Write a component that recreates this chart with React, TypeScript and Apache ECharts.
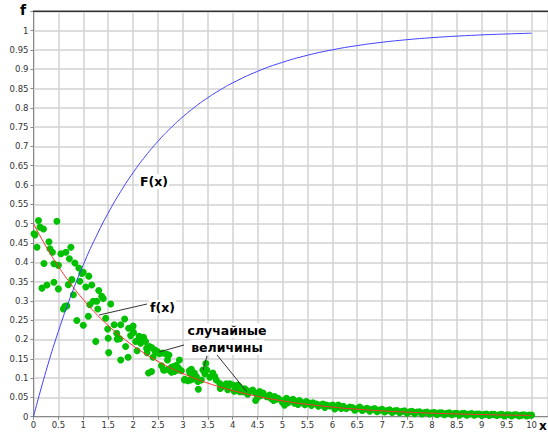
import React, { useEffect, useRef } from "react";
import * as echarts from "echarts";

// x positions for the two curves
const curveX = [0, 0.25, 0.5, 0.75, 1, 1.25, 1.5, 1.75, 2, 2.25, 2.5, 2.75, 3, 3.25, 3.5, 3.75, 4, 4.5, 5, 5.5, 6, 6.5, 7, 7.5, 8, 8.5, 9, 9.5, 10];
// F(x) – blue curve
const cdfY = [0, 0.1175, 0.2212, 0.3127, 0.3935, 0.4647, 0.5276, 0.5831, 0.6321, 0.6753, 0.7135, 0.7471, 0.7769, 0.8031, 0.8262, 0.8466, 0.8647, 0.8946, 0.9179, 0.9361, 0.9502, 0.9612, 0.9698, 0.9765, 0.9817, 0.9857, 0.9889, 0.9913, 0.9933];
// f(x) – red curve
const pdfY = [0.5, 0.4412, 0.3894, 0.3436, 0.3033, 0.2676, 0.2362, 0.2084, 0.1839, 0.1623, 0.1433, 0.1264, 0.1116, 0.0985, 0.0869, 0.0767, 0.0677, 0.0527, 0.041, 0.032, 0.0249, 0.0194, 0.0151, 0.0118, 0.0092, 0.0071, 0.0056, 0.0043, 0.0034];

// random values (green points)
const randomValues: [number, number][] = [
  [0.01, 0.474], [0.03, 0.471], [0.1, 0.508], [0.13, 0.491], [0.2, 0.486], [0.07, 0.439], [0.31, 0.453], [0.33, 0.435],
  [0.38, 0.426], [0.47, 0.506], [0.21, 0.397], [0.41, 0.396], [0.5, 0.392], [0.17, 0.333], [0.27, 0.341], [0.41, 0.348],
  [0.5, 0.331], [0.55, 0.422], [0.65, 0.426], [0.75, 0.439], [0.72, 0.409], [0.83, 0.398], [0.91, 0.385], [0.77, 0.355],
  [0.7, 0.342], [0.6, 0.279], [0.63, 0.286], [0.67, 0.287], [0.8, 0.316], [0.87, 0.249], [1.0, 0.237], [0.97, 0.371],
  [1.0, 0.374], [0.93, 0.351], [1.11, 0.364], [1.05, 0.336], [1.17, 0.341], [1.13, 0.29], [1.2, 0.299], [1.27, 0.299],
  [1.29, 0.279], [1.1, 0.26], [1.31, 0.327], [1.37, 0.312], [1.4, 0.306], [1.25, 0.195], [1.45, 0.255], [1.55, 0.292],
  [1.49, 0.227], [1.5, 0.203], [1.51, 0.166], [1.62, 0.238], [1.67, 0.216], [1.68, 0.201], [1.73, 0.202], [1.75, 0.238],
  [1.83, 0.253], [1.75, 0.147], [1.85, 0.182], [1.9, 0.154], [1.91, 0.229], [1.95, 0.21], [1.98, 0.229], [2.0, 0.235],
  [2.01, 0.218], [2.05, 0.195], [2.08, 0.171], [2.12, 0.208], [2.15, 0.19], [2.18, 0.201], [2.21, 0.206], [2.25, 0.195],
  [2.27, 0.177], [2.28, 0.166], [2.31, 0.113], [2.37, 0.117], [2.33, 0.182], [2.4, 0.154], [2.45, 0.166], [2.49, 0.169],
  [2.53, 0.163], [2.6, 0.165], [2.67, 0.162], [2.72, 0.16], [2.57, 0.132], [2.61, 0.121], [2.69, 0.147], [2.73, 0.121],
  [2.77, 0.115], [2.81, 0.13], [2.87, 0.133], [2.91, 0.126], [2.97, 0.119], [2.93, 0.147], [2.83, 0.117], [2.37, 0.179],
  [2.43, 0.173], [2.63, 0.121], [2.7, 0.123], [2.77, 0.128], [2.8, 0.12], [2.9, 0.121],
  [3.03, 0.095], [3.1, 0.093], [3.15, 0.095], [3.2, 0.098], [3.23, 0.113], [3.13, 0.119], [3.31, 0.071], [3.27, 0.104],
  [3.04, 0.097], [3.14, 0.113], [3.24, 0.102], [3.17, 0.123], [3.3, 0.091], [3.37, 0.095], [3.4, 0.121], [3.46, 0.138],
  [3.48, 0.121], [3.44, 0.111], [3.54, 0.102], [3.6, 0.113], [3.64, 0.104], [3.67, 0.095], [3.74, 0.086], [3.75, 0.073],
  [3.8, 0.079], [3.87, 0.085], [3.94, 0.085], [4.0, 0.082], [4.06, 0.073], [4.1, 0.082], [4.13, 0.078], [4.14, 0.065],
  [4.21, 0.065], [4.27, 0.069], [4.34, 0.065], [4.4, 0.069], [4.46, 0.061], [4.54, 0.065], [4.61, 0.061], [4.46, 0.042],
  [4.68, 0.052], [4.74, 0.056], [4.84, 0.052], [4.82, 0.042], [4.91, 0.048], [4.98, 0.042], [5.04, 0.03], [5.08, 0.048],
  [5.14, 0.042], [5.21, 0.045], [5.28, 0.039], [5.34, 0.042], [5.41, 0.036], [5.48, 0.039], [5.55, 0.035], [5.61, 0.036],
  [5.68, 0.033], [5.75, 0.03], [5.81, 0.033], [5.88, 0.03], [5.95, 0.028], [6.01, 0.03], [6.08, 0.024], [6.18, 0.021],
  [6.28, 0.021], [6.35, 0.025], [4.3, 0.058], [4.57, 0.055], [4.77, 0.047], [5.0, 0.037], [5.24, 0.035], [5.45, 0.031],
  [5.72, 0.027], [6.12, 0.03], [6.22, 0.027], [3.9, 0.07], [4.03, 0.066], [4.24, 0.072], [4.5, 0.05], [4.88, 0.045],
  [5.11, 0.036], [5.31, 0.032], [5.58, 0.029], [5.85, 0.024], [6.05, 0.02],
  [6.4, 0.024], [6.45, 0.017], [6.5, 0.021], [6.55, 0.025], [6.6, 0.016], [6.65, 0.02], [6.7, 0.022], [6.75, 0.014],
  [6.8, 0.019], [6.85, 0.021], [6.9, 0.013], [6.95, 0.017], [7.0, 0.019], [7.05, 0.012], [7.1, 0.016], [7.15, 0.018],
  [7.2, 0.011], [7.25, 0.015], [7.3, 0.016], [7.35, 0.01], [7.4, 0.014], [7.45, 0.015], [7.5, 0.009], [7.55, 0.013],
  [7.6, 0.014], [7.65, 0.008], [7.7, 0.012], [7.75, 0.013], [7.8, 0.007], [7.85, 0.011], [7.9, 0.012], [7.95, 0.007],
  [8.0, 0.01], [8.05, 0.011], [8.1, 0.006], [8.15, 0.01], [8.2, 0.01], [8.25, 0.005], [8.3, 0.009], [8.35, 0.01],
  [8.4, 0.005], [8.45, 0.008], [8.5, 0.009], [8.55, 0.004], [8.6, 0.008], [8.65, 0.009], [8.7, 0.004], [8.75, 0.007],
  [8.8, 0.008], [8.85, 0.004], [8.9, 0.007], [8.95, 0.007], [9.0, 0.003], [9.05, 0.006], [9.1, 0.007], [9.15, 0.003],
  [9.2, 0.006], [9.25, 0.006], [9.3, 0.003], [9.35, 0.005], [9.4, 0.006], [9.45, 0.002], [9.5, 0.005], [9.55, 0.005],
  [9.6, 0.002], [9.65, 0.005], [9.7, 0.005], [9.75, 0.002], [9.8, 0.004], [9.85, 0.005], [9.9, 0.002], [9.95, 0.004],
  [10.0, 0.004],
];

const FONT = "DejaVu Sans";

export default function App() {
  const ref = useRef<HTMLDivElement>(null);
  useEffect(() => {
    if (!ref.current) return;
    const chart = echarts.init(ref.current, null, { renderer: "svg" });
    const lineStyleAnn = { stroke: "#333", lineWidth: 1 };
    const annFont = `bold 12.5px "${FONT}"`;
    chart.setOption({
      animation: false,
      backgroundColor: "#fff",
      grid: { left: 33.5, top: 11.3, right: 0, bottom: 17.3 },
      xAxis: {
        type: "value",
        min: 0,
        max: 10.33,
        interval: 0.5,
        axisLine: { lineStyle: { color: "#888", width: 1 } },
        axisTick: { show: true, length: 3, lineStyle: { color: "#888" } },
        axisLabel: {
          color: "#333",
          fontFamily: FONT,
          fontSize: 8.5,
          margin: 4,
          showMaxLabel: false,
          formatter: (v: number) => (Math.abs(v * 2 - Math.round(v * 2)) < 1e-6 ? String(v) : ""),
        },
        splitLine: { show: true, lineStyle: { color: "#d2d2d2", width: 1.5 } },
      },
      yAxis: {
        type: "value",
        min: 0,
        max: 1.05,
        interval: 0.05,
        axisLine: { show: true, lineStyle: { color: "#888", width: 1 } },
        axisTick: { show: true, length: 3, lineStyle: { color: "#888" } },
        axisLabel: {
          color: "#333",
          fontFamily: FONT,
          fontSize: 8.5,
          margin: 5,
          formatter: (v: number) => (v > 1.001 ? "" : String(Math.round(v * 100) / 100)),
        },
        splitLine: { show: true, lineStyle: { color: "#d2d2d2", width: 1.5 } },
      },
      series: [
        {
          type: "line",
          data: curveX.map((x, i) => [x, pdfY[i]]),
          smooth: true,
          showSymbol: false,
          lineStyle: { color: "#ff3030", width: 1 },
        },
        {
          type: "scatter",
          data: randomValues,
          symbolSize: 7,
          itemStyle: { color: "#00c000", opacity: 1 },
        },
        {
          type: "line",
          data: curveX.map((x, i) => [x, cdfY[i]]),
          smooth: true,
          showSymbol: false,
          lineStyle: { color: "#4040ff", width: 1 },
        },
      ],
      graphic: [
        { type: "line", shape: { x1: 33, y1: 11.3, x2: 548, y2: 11.3 }, style: { stroke: "#333", lineWidth: 1.5 }, z: 10 },
        { type: "text", left: 20, top: 3, style: { text: "f", font: `bold 14px "${FONT}"`, fill: "#000" }, z: 10 },
        { type: "text", left: 539, top: 420, style: { text: "x", font: `bold 12px "${FONT}"`, fill: "#000" }, z: 10 },
        { type: "text", left: 139, top: 174, style: { text: "F(x)", font: annFont, fill: "#000", backgroundColor: "#fff", padding: [1, 1] }, z: 10 },
        { type: "line", shape: { x1: 99, y1: 315, x2: 147, y2: 304 }, style: lineStyleAnn, z: 10 },
        { type: "text", left: 149, top: 300, style: { text: "f(x)", font: annFont, fill: "#000", backgroundColor: "#fff", padding: [1, 1] }, z: 10 },
        { type: "line", shape: { x1: 159, y1: 352, x2: 184, y2: 345 }, style: lineStyleAnn, z: 10 },
        { type: "line", shape: { x1: 207, y1: 356, x2: 203, y2: 370 }, style: lineStyleAnn, z: 10 },
        { type: "line", shape: { x1: 217, y1: 355, x2: 247, y2: 392 }, style: lineStyleAnn, z: 10 },
        { type: "text", x: 227, y: 323, style: { text: "случайные", font: annFont, fill: "#000", align: "center", backgroundColor: "#fff", padding: [1, 1] }, z: 10 },
        { type: "text", x: 227, y: 340, style: { text: "величины", font: annFont, fill: "#000", align: "center", backgroundColor: "#fff", padding: [1, 1] }, z: 10 },
      ],
    });
    return () => chart.dispose();
  }, []);
  return <div ref={ref} style={{ position: "fixed", left: 0, top: 0, width: 548, height: 434 }} />;
}
